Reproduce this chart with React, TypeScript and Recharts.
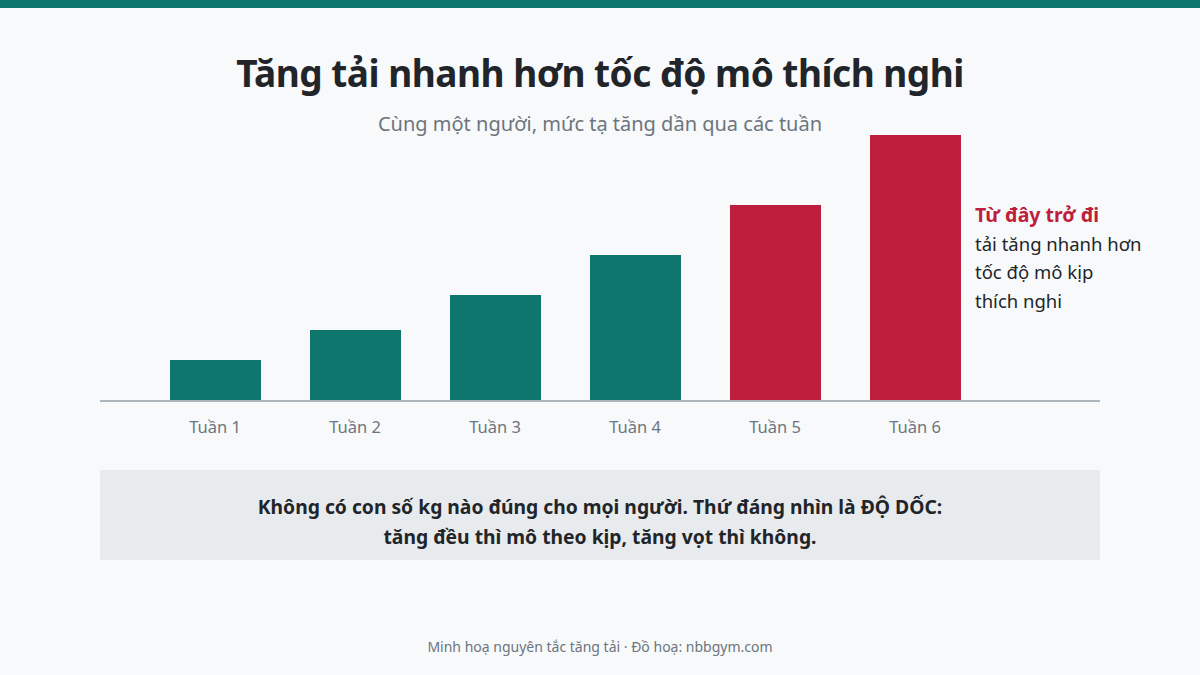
import React from "react";
import { BarChart, Bar, XAxis, YAxis, Cell } from "recharts";

const weeks = ["Tuần 1", "Tuần 2", "Tuần 3", "Tuần 4", "Tuần 5", "Tuần 6"];
const loads = [41, 71, 106, 146, 196, 266];
const overload = [false, false, false, false, true, true];

const title = "Tăng tải nhanh hơn tốc độ mô thích nghi";
const subtitle = "Cùng một người, mức tạ tăng dần qua các tuần";
const noteHead = "Từ đây trở đi";
const noteLines = ["tải tăng nhanh hơn", "tốc độ mô kịp", "thích nghi"];
const boxLines = [
  "Không có con số kg nào đúng cho mọi người. Thứ đáng nhìn là ĐỘ DỐC:",
  "tăng đều thì mô theo kịp, tăng vọt thì không.",
];
const footer = "Minh hoạ nguyên tắc tăng tải · Đồ hoạ: nbbgym.com";

const TEAL = "#0f766e";
const RED = "#be1e3c";
const FONT = "'Noto Sans', 'Open Sans', sans-serif";

const data = weeks.map((w, i) => ({ week: w, load: loads[i], over: overload[i] }));

export default function App() {
  return (
    <div
      style={{
        position: "fixed",
        left: 0,
        top: 0,
        width: 1200,
        height: 675,
        background: "#f8f9fb",
        fontFamily: FONT,
        overflow: "hidden",
      }}
    >
      <div style={{ position: "absolute", left: 0, top: 0, width: 1200, height: 8, background: TEAL }} />
      <div
        style={{
          position: "absolute",
          left: 0,
          width: 1200,
          top: 48,
          textAlign: "center",
          fontSize: 37,
          fontWeight: 700,
          color: "#212529",
          lineHeight: "50px",
          letterSpacing: -0.5,
        }}
      >
        {title}
      </div>
      <div
        style={{
          position: "absolute",
          left: 0,
          width: 1200,
          top: 110,
          textAlign: "center",
          fontSize: 20,
          color: "#6c757d",
          lineHeight: "28px",
        }}
      >
        {subtitle}
      </div>
      <div style={{ position: "absolute", left: 0, top: 0 }}>
        <BarChart
          width={1200}
          height={675}
          data={data}
          margin={{ top: 121, right: 100, bottom: 244, left: 100 }}
          barCategoryGap={0}
        >
          <YAxis hide domain={[0, 280]} />
          <XAxis
            dataKey="week"
            height={30}
            padding={{ left: 45, right: 115 }}
            tickLine={false}
            tickMargin={14}
            axisLine={{ stroke: "#adb5bd", strokeWidth: 2 }}
            tick={{ fill: "#6c757d", fontSize: 16.5, fontFamily: FONT }}
            interval={0}
          />
          <Bar dataKey="load" barSize={91} isAnimationActive={false}>
            {data.map((d, i) => (
              <Cell key={i} fill={d.over ? RED : TEAL} />
            ))}
          </Bar>
        </BarChart>
      </div>
      <div
        style={{
          position: "absolute",
          left: 975,
          top: 201,
          fontSize: 18.5,
          lineHeight: "28.7px",
          color: "#212529",
        }}
      >
        <div style={{ color: RED, fontWeight: 700, fontSize: 19.5 }}>{noteHead}</div>
        {noteLines.map((l, i) => (
          <div key={i}>{l}</div>
        ))}
      </div>
      <div
        style={{
          position: "absolute",
          left: 100,
          top: 470,
          width: 1000,
          height: 90,
          background: "#e8ebee",
          boxSizing: "border-box",
          paddingTop: 14,
          display: "flex",
          flexDirection: "column",
          justifyContent: "center",
          alignItems: "center",
          fontSize: 19.3,
          fontWeight: 700,
          color: "#212529",
          lineHeight: "30px",
        }}
      >
        {boxLines.map((l, i) => (
          <div key={i}>{l}</div>
        ))}
      </div>
      <div
        style={{
          position: "absolute",
          left: 0,
          width: 1200,
          top: 637,
          textAlign: "center",
          fontSize: 14,
          color: "#6c757d",
          lineHeight: "20px",
        }}
      >
        {footer}
      </div>
    </div>
  );
}
